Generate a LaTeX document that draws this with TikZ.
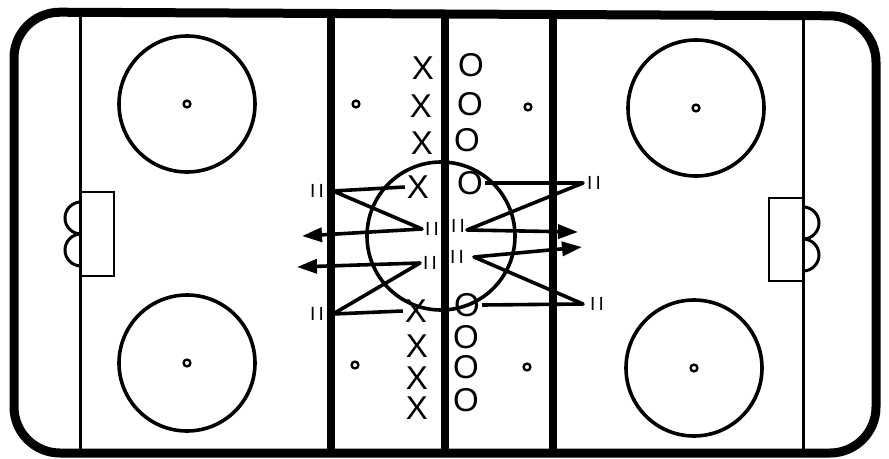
\documentclass[tikz,border=0pt]{standalone}
\usepackage{fontspec}
\setmainfont{Liberation Sans}
\usetikzlibrary{positioning, arrows.meta}

\begin{document}
\begin{tikzpicture}[
    x=1pt, y=-1pt,
    % Define styles for the rink, the players and the routes
    rink/.style={line width=9pt, rounded corners=46pt},
    zoneline/.style={line width=8pt},
    goalline/.style={line width=3pt},
    ring/.style={line width=3.6pt},
    spot/.style={line width=2.4pt},
    crease/.style={line width=2pt},
    player/.style={font=\fontsize{33}{33}\selectfont, inner sep=0pt},
    pairmark/.style={font=\fontsize{19}{19}\selectfont, inner sep=1pt},
    route/.style={line width=3.6pt, line join=round},
    arrow/.style={route, -{Triangle[length=20pt, width=14pt]}}
]
\useasboundingbox (0,0) rectangle (889,458);

% --- Rink ---

% Goal lines, blue lines and centre line
\draw[goalline] (80,14) -- (80,452);
\draw[goalline] (803,16) -- (803,452);
\draw[zoneline] (331,14) -- (331,452);
\draw[zoneline] (553,15) -- (553,452);
\draw[zoneline] (445,14) -- (445,452);

% Boards
\draw[rink] (14,240) -- (14,12) -- (876,16) -- (876,453) -- (14,453) -- cycle;

% Face-off circles and spots
\draw[ring] (187,104) circle[radius=68];
\draw[ring] (187,363) circle[radius=68];
\draw[ring] (696,108) circle[radius=68];
\draw[ring] (694,368) circle[radius=68];
\draw[spot] (187,104) circle[radius=3.4];
\draw[spot] (187,363) circle[radius=3.4];
\draw[spot] (696,108) circle[radius=3.4];
\draw[spot] (694,368) circle[radius=3.4];
\draw[spot] (356,104) circle[radius=3.4];
\draw[spot] (528,107) circle[radius=3.4];
\draw[spot] (355,365) circle[radius=3.4];
\draw[spot] (527,367) circle[radius=3.4];
\draw[ring] (441,236) circle[radius=74];

% Creases and nets
\draw[crease] (81,192) rectangle (114,276);
\draw[crease] (769,198) rectangle (803,281);
\draw[ring, line width=3pt] (81,202) arc[start angle=270, end angle=90, radius=16];
\draw[ring, line width=3pt] (81,234) arc[start angle=270, end angle=90, radius=16];
\draw[ring, line width=3pt] (803,207) arc[start angle=-90, end angle=90, radius=16];
\draw[ring, line width=3pt] (803,239) arc[start angle=-90, end angle=90, radius=16];

% --- Players ---

\node[player] (x1) at (423,68) {X};
\node[player] (x2) at (421,106) {X};
\node[player] (x3) at (422,143) {X};
\node[player] (x4) at (418,187) {X};
\node[player] (x5) at (416,311) {X};
\node[player] (x6) at (417,346) {X};
\node[player] (x7) at (417,378) {X};
\node[player] (x8) at (417,408) {X};

\node[player] (o1) at (471,65) {O};
\node[player] (o2) at (470,104) {O};
\node[player] (o3) at (467,140) {O};
\node[player] (o4) at (470,183) {O};
\node[player] (o5) at (467,305) {O};
\node[player] (o6) at (466,337) {O};
\node[player] (o7) at (466,367) {O};
\node[player] (o8) at (466,400) {O};

% --- Turning points and marks ---

\coordinate (c1) at (333,191);
\coordinate (c2) at (422,229);
\coordinate (c3) at (333,314);
\coordinate (c4) at (420,263);
\coordinate (c5) at (583,183);
\coordinate (c6) at (467,230);
\coordinate (c7) at (583,304);
\coordinate (c8) at (474,257);

\coordinate (e1) at (302,236);
\coordinate (e2) at (297,267);
\coordinate (e3) at (578,232);
\coordinate (e4) at (582,247);

\node[pairmark, left=8pt of c1] (t1) {I\,I};
\node[pairmark, right=2pt of c2] (t2) {I\,I};
\node[pairmark, right=2pt of c4] (t3) {I\,I};
\node[pairmark, left=1pt of c6, yshift=4pt] (t5) {I\,I};
\node[pairmark, left=8pt of c3] (t4) {I\,I};
\node[pairmark, left=9pt of c8] (t6) {I\,I};
\node[pairmark, right=3pt of c5] (t7) {I\,I};
\node[pairmark, right=6pt of c7] (t8) {I\,I};

% --- Routes ---

\draw[arrow] ([xshift=-2pt]x4.west) -- (c1) -- (c2) -- (e1);
\draw[arrow] ([xshift=-2pt]x5.west) -- (c3) -- (c4) -- (e2);
\draw[arrow] ([xshift=2pt]o4.east) -- (c5) -- (c6) -- (e3);
\draw[arrow] ([xshift=2pt]o5.east) -- (c7) -- (c8) -- (e4);

\end{tikzpicture}
\end{document}
